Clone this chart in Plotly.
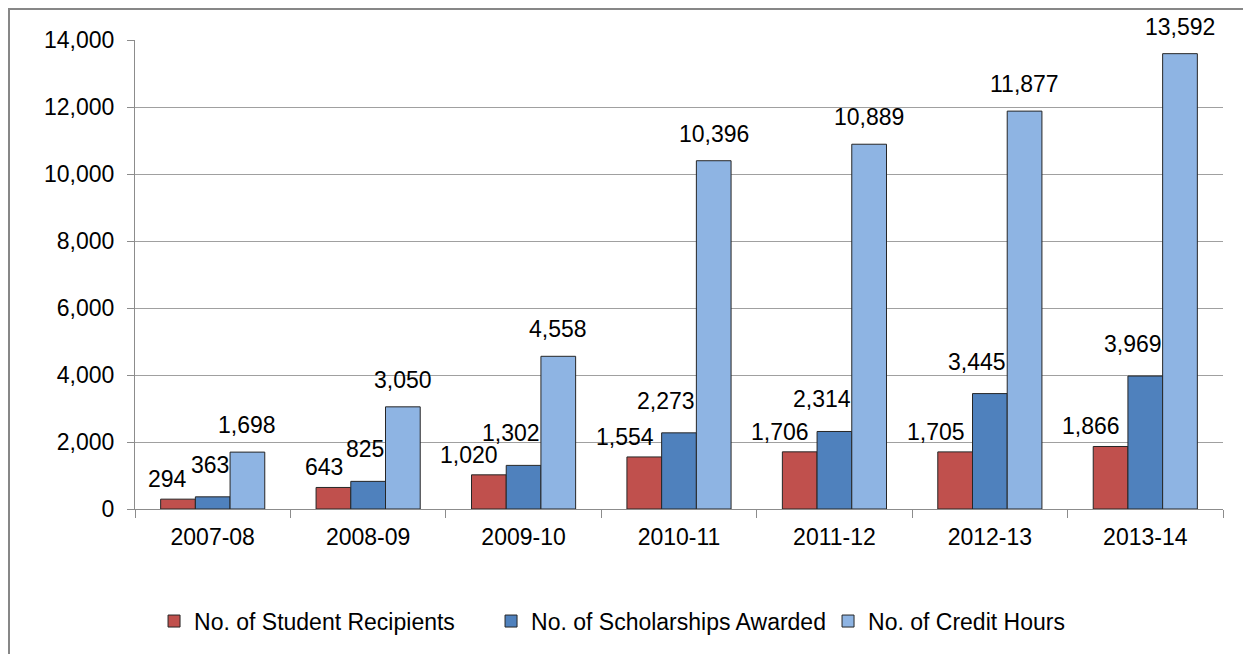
import plotly.graph_objects as go

categories = ["2007-08", "2008-09", "2009-10", "2010-11", "2011-12", "2012-13", "2013-14"]
student_recipients = [294, 643, 1020, 1554, 1706, 1705, 1866]
scholarships_awarded = [363, 825, 1302, 2273, 2314, 3445, 3969]
credit_hours = [1698, 3050, 4558, 10396, 10889, 11877, 13592]
series_names = ["No. of Student Recipients", "No. of Scholarships Awarded", "No. of Credit Hours"]
series_colors = ["#C0504D", "#4F81BD", "#8EB4E3"]
y_ticks = [0, 2000, 4000, 6000, 8000, 10000, 12000, 14000]

FONT = "Liberation Sans, Arial, sans-serif"
W, H = 1251, 654
ML, MR, MT, MB = 127, 36, 32, 153
BARGAP = 0.33

fig = go.Figure()
all_series = [student_recipients, scholarships_awarded, credit_hours]
for name, vals, col in zip(series_names, all_series, series_colors):
    fig.add_trace(go.Bar(
        x=categories, y=vals, name=name,
        marker=dict(color=col, line=dict(color="#262626", width=1)),
    ))

# data labels as annotations
plot_w = W - ML - MR
plot_h = H - MT - MB
cat_w = plot_w / len(categories)
bar_w = cat_w * (1 - BARGAP) / 3
label_cfg = [
    dict(xshift=-bar_w / 2 - 6, xanchor="right", yshift=5),
    dict(xshift=bar_w / 2 + 1, xanchor="right", yshift=17),
    dict(xshift=bar_w, xanchor="center", yshift=12),
]
annotations = []
for vals, cfg in zip(all_series, label_cfg):
    for c, v in zip(categories, vals):
        annotations.append(dict(
            x=c, y=v, xref="x", yref="y", text=f"{v:,}", showarrow=False,
            xanchor=cfg["xanchor"], yanchor="bottom",
            xshift=cfg["xshift"], yshift=cfg["yshift"],
            font=dict(family=FONT, size=23, color="#000000"),
        ))

fig.update_layout(
    width=W, height=H,
    margin=dict(l=ML, r=MR, t=MT, b=MB, autoexpand=False),
    paper_bgcolor="white", plot_bgcolor="white",
    barmode="group", bargap=BARGAP, bargroupgap=0,
    font=dict(family=FONT, size=23, color="#000000"),
    showlegend=True,
    legend=dict(
        orientation="h", x=0.0175, xanchor="left", y=-0.239, yanchor="middle",
        font=dict(family=FONT, size=23, color="#000000"),
        entrywidth=292, entrywidthmode="pixels", itemwidth=30,
        bgcolor="rgba(0,0,0,0)",
    ),
    annotations=annotations,
    shapes=[dict(type="rect", xref="paper", yref="paper",
                 x0=(1 - ML) / plot_w, x1=1.3, y0=-0.7, y1=1 + (MT - 1) / plot_h,
                 line=dict(color="#878787", width=2), fillcolor="rgba(0,0,0,0)", layer="below")],
)
fig.update_xaxes(
    type="category",
    showline=True, linecolor="#8c8c8c", linewidth=1,
    ticks="outside", tickson="boundaries", ticklen=8, tickcolor="#8c8c8c",
    showgrid=False, tickfont=dict(family=FONT, size=23), ticklabelstandoff=7,
)
fig.update_yaxes(
    range=[0, 14000], tickvals=y_ticks, tickformat=",",
    showline=True, linecolor="#8c8c8c", linewidth=1,
    ticks="outside", ticklen=7, tickcolor="#8c8c8c",
    showgrid=True, gridcolor="#a0a0a0", gridwidth=1, zeroline=False,
    ticklabelstandoff=8, tickfont=dict(family=FONT, size=23),
)
fig.write_html("out.html")
